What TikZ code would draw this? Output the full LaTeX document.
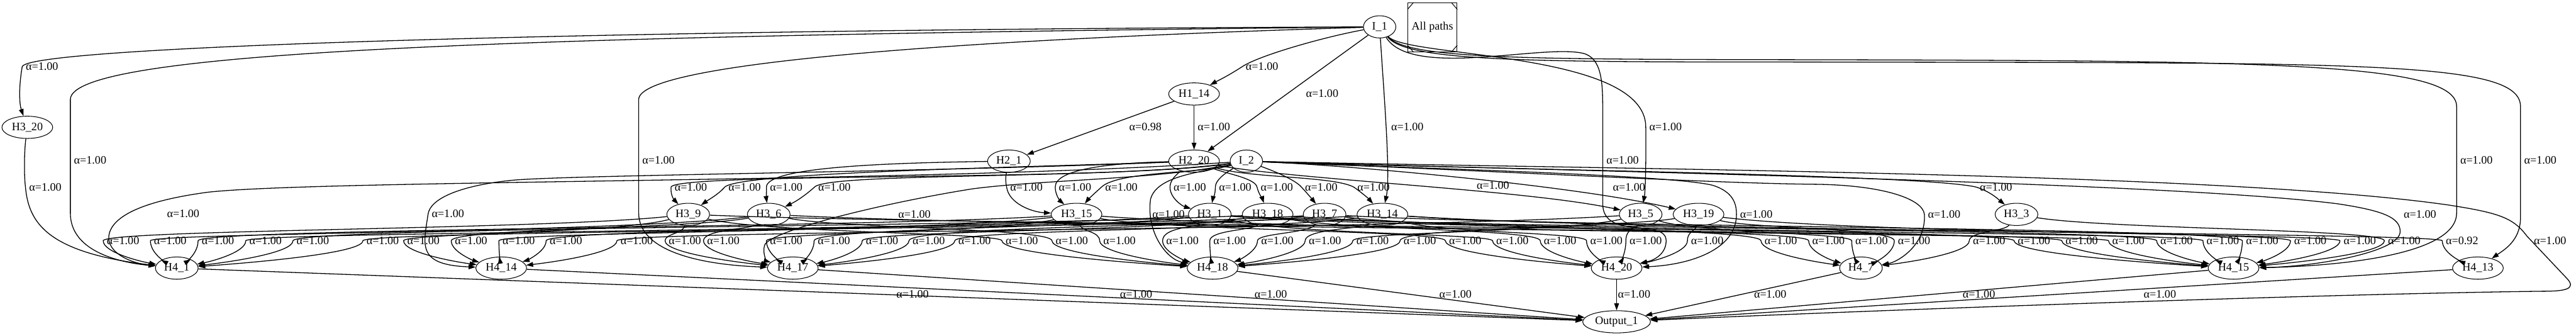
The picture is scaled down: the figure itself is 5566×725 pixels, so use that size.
\documentclass[tikz,border=0pt]{standalone}
\usepackage{fontspec}
\setmainfont{Liberation Serif}
\usetikzlibrary{arrows.meta,calc,shapes.geometric}
\begin{document}
\begin{tikzpicture}[x=0.01cm,y=-0.01cm,font=\fontsize{7}{8}\selectfont,
  nd/.style={draw,ellipse,minimum width=0.7cm,minimum height=0.48cm,inner xsep=1.5pt,inner ysep=1pt},
  link/.style={draw,line width=0.5pt,-{Triangle[length=4.3pt,width=2.9pt]}},
  lbl/.style={anchor=west,inner sep=2pt}]
\useasboundingbox (0,0) rectangle (5566,725);
\node[nd] (I_1) at (2981,58) {I\_1};
\node[draw,minimum width=1.06cm,minimum height=1.06cm,inner sep=0pt] (legend) at (3095,59) {All paths};
\draw ($(legend.north west)+(0,15)$) -- ($(legend.north west)+(13,0)$);
\draw ($(legend.north east)+(0,15)$) -- ($(legend.north east)+(-13,0)$);
\draw ($(legend.south west)+(0,-15)$) -- ($(legend.south west)+(13,0)$);
\draw ($(legend.south east)+(0,-15)$) -- ($(legend.south east)+(-13,0)$);
\node[nd] (H1_14) at (2580,203) {H1\_14};
\node[nd] (H2_1) at (2180,348) {H2\_1};
\node[nd] (H2_20) at (2580,348) {H2\_20};
\node[nd] (I_2) at (2693,348) {I\_2};
\node[nd] (H3_20) at (59,275) {H3\_20};
\node[nd] (H3_9) at (1487,463) {H3\_9};
\node[nd] (H3_6) at (1661,463) {H3\_6};
\node[nd] (H3_15) at (2326,463) {H3\_15};
\node[nd] (H3_1) at (2614,463) {H3\_1};
\node[nd] (H3_18) at (2739,463) {H3\_18};
\node[nd] (H3_7) at (2862,463) {H3\_7};
\node[nd] (H3_14) at (2987,463) {H3\_14};
\node[nd] (H3_5) at (3545,463) {H3\_5};
\node[nd] (H3_19) at (3670,463) {H3\_19};
\node[nd] (H3_3) at (4357,463) {H3\_3};
\node[nd] (H4_1) at (382,579) {H4\_1};
\node[nd] (H4_14) at (1083,579) {H4\_14};
\node[nd] (H4_17) at (1713,579) {H4\_17};
\node[nd] (H4_18) at (2620,579) {H4\_18};
\node[nd] (H4_20) at (3493,579) {H4\_20};
\node[nd] (H4_7) at (4021,579) {H4\_7};
\node[nd] (H4_15) at (4826,579) {H4\_15};
\node[nd] (H4_13) at (5354,579) {H4\_13};
\node[nd] (Output_1) at (3493,695) {Output\_1};

\draw[link] (I_1) .. controls (1300,64) and (60,100) .. (48,144) node[lbl]{α=1.00} .. controls (40,190) and (42,225) .. (H3_20);
\draw[link] (I_1) .. controls (1100,78) and (152,110) .. (152,215) -- (152,346) node[lbl]{α=1.00} -- (152,460) .. controls (152,540) and (250,566) .. (H4_1);
\draw[link] (I_1) .. controls (2860,80) and (2720,120) .. (2684,144) node[lbl]{α=1.00} .. controls (2650,166) and (2628,176) .. (H1_14);
\draw[link] (I_1) -- (H2_20) node[lbl] at (2814,202) {α=1.00};
\draw[link] (I_1) .. controls (2990,200) and (3005,380) .. (H3_14) node[lbl] at (2998,274) {α=1.00};
\draw[link] (I_1) .. controls (2000,88) and (1380,140) .. (1380,215) -- (1380,346) node[lbl]{α=1.00} -- (1380,460) .. controls (1380,545) and (1520,572) .. (H4_17);
\draw[link] (I_1) .. controls (3040,125) and (3555,110) .. (3556,274) node[lbl]{α=1.00} .. controls (3557,380) and (3554,420) .. (H3_5);
\draw[link] (I_1) .. controls (3050,170) and (3330,95) .. (3420,115) .. controls (3462,125) and (3463,180) .. (3463,240) -- (3463,346) node[lbl]{α=1.00} -- (3463,440) .. controls (3463,520) and (3600,470) .. (3600,520) .. controls (3600,548) and (3575,562) .. (H4_20);
\draw[link] (I_1) .. controls (3040,128) and (3300,128) .. (3900,129) .. controls (4900,131) and (5308,135) .. (5308,230) -- (5308,346) node[lbl]{α=1.00} -- (5308,460) .. controls (5308,560) and (5000,576) .. (H4_15);
\draw[link] (I_1) .. controls (3040,133) and (3300,134) .. (3900,134) .. controls (5100,136) and (5446,130) .. (5446,230) -- (5446,346) node[lbl]{α=1.00} -- (5446,470) .. controls (5446,520) and (5410,540) .. (H4_13);

\draw[link] (H1_14) -- (H2_1) node[lbl] at (2432,274) {α=0.98};
\draw[link] (H1_14) -- (H2_20) node[lbl] at (2580,274) {α=1.00};

\draw[link] (H2_1) .. controls (2172,385) and (2173,395) .. (2175,404) node[lbl]{α=1.00} .. controls (2180,440) and (2230,458) .. (H3_15);
\draw[link] (H2_1) .. controls (1900,352) and (1656,362) .. (1656,404) node[lbl]{α=1.00} .. controls (1656,420) and (1656,430) .. (H3_6);

\draw[link] (H2_20) .. controls (2400,352) and (2280,365) .. (2280,404) node[lbl]{α=1.00} .. controls (2280,422) and (2292,435) .. (H3_15);
\draw[link] (H2_20) .. controls (2540,378) and (2528,390) .. (2528,404) node[lbl]{α=1.00} .. controls (2528,428) and (2555,445) .. (H3_1);
\draw[link] (H2_20) .. controls (2650,375) and (2712,385) .. (2716,404) node[lbl]{α=1.00} .. controls (2720,420) and (2728,430) .. (H3_18);
\draw[link] (H2_20) .. controls (2700,385) and (2880,380) .. (2925,404) node[lbl]{α=1.00} .. controls (2945,418) and (2958,430) .. (H3_14);
\draw[link] (H2_20) .. controls (2800,388) and (3300,410) .. (H3_5) node[lbl] at (3183,401) {α=1.00};
\draw[link] (H2_20) .. controls (2200,362) and (1600,372) .. (1566,404) node[lbl]{α=1.00} .. controls (1552,420) and (1530,432) .. (H3_9);
\draw[link] (H2_20) .. controls (2000,372) and (1200,378) .. (1100,390) .. controls (990,402) and (930,430) .. (925,462) node[lbl]{α=1.00} .. controls (915,530) and (900,572) .. (H4_14);

\draw[link] (I_2) .. controls (2400,392) and (1460,372) .. (1450,404) node[lbl]{α=1.00} .. controls (1448,425) and (1460,435) .. (H3_9);
\draw[link] (I_2) .. controls (2400,388) and (1790,372) .. (1760,404) node[lbl]{α=1.00} .. controls (1740,422) and (1720,435) .. (H3_6);
\draw[link] (I_2) .. controls (2600,374) and (2415,370) .. (2380,404) node[lbl]{α=1.00} .. controls (2362,420) and (2350,432) .. (H3_15);
\draw[link] (I_2) .. controls (2650,372) and (2626,388) .. (2626,404) node[lbl]{α=1.00} .. controls (2626,422) and (2620,432) .. (H3_1);
\draw[link] (I_2) .. controls (2760,372) and (2800,390) .. (2812,404) node[lbl]{α=1.00} .. controls (2825,418) and (2835,430) .. (H3_7);
\draw[link] (I_2) .. controls (2900,356) and (3400,400) .. (H3_19) node[lbl] at (3477,404) {α=1.00};
\draw[link] (I_2) .. controls (3200,366) and (4150,376) .. (4270,404) node[lbl]{α=1.00} .. controls (4300,414) and (4315,428) .. (H3_3);
\draw[link] (I_2) .. controls (2000,395) and (700,388) .. (450,415) .. controls (300,435) and (240,470) .. (235,510) .. controls (232,545) and (280,568) .. (H4_1) node[lbl] at (353,462) {α=1.00};
\draw[link] (I_2) .. controls (2500,388) and (2250,388) .. (2100,408) .. controls (1900,440) and (1660,500) .. (1652,530) .. controls (1646,550) and (1660,565) .. (H4_17) node[lbl] at (1933,463) {α=1.00};
\draw[link] (I_2) .. controls (2600,372) and (2500,378) .. (2486,430) .. controls (2476,500) and (2520,560) .. (H4_18) node[lbl] at (2482,463) {α=1.00};
\draw[link] (I_2) .. controls (3000,362) and (3600,376) .. (3700,400) .. controls (3745,414) and (3752,440) .. (3752,463) node[lbl]{α=1.00} .. controls (3752,540) and (3650,572) .. (H4_20);
\draw[link] (I_2) .. controls (3300,372) and (3700,396) .. (3924,398) .. controls (4070,400) and (4155,430) .. (4158,463) node[lbl]{α=1.00} .. controls (4162,530) and (4100,566) .. (H4_7);
\draw[link] (I_2) .. controls (3600,374) and (4700,396) .. (5050,440) .. controls (5150,455) and (5186,470) .. (5186,500) .. controls (5186,545) and (5000,576) .. (H4_15) node[lbl] at (5186,463) {α=1.00};
\draw[link] (I_2) .. controls (3500,366) and (4800,372) .. (5292,443) .. controls (5400,460) and (5430,470) .. (5460,510) -- (5545,600) .. controls (5570,625) and (5540,629) .. (5494,629) .. controls (5000,635) and (4000,672) .. (Output_1) node[lbl] at (5467,520) {α=1.00};

\draw[link] (H3_20) .. controls (52,330) and (52,380) .. (55,404) node[lbl]{α=1.00} .. controls (62,480) and (100,545) .. (H4_1);

\foreach \src/\lx/\tgt/\w [count=\i] in {H3_9/223/H4_1/1.00, H3_6/325/H4_1/1.00, H3_15/428/H4_1/1.00, H3_1/531/H4_1/1.00, H3_18/633/H4_1/1.00, H3_14/784/H4_1/1.00,
  H3_9/872/H4_14/1.00, H3_6/975/H4_14/1.00, H3_15/1078/H4_14/1.00, H3_7/1180/H4_14/1.00, H3_5/1333/H4_14/1.00,
  H3_9/1437/H4_17/1.00, H3_6/1520/H4_17/1.00, H3_15/1656/H4_17/1.00, H3_1/1759/H4_17/1.00, H3_18/1863/H4_17/1.00, H3_7/1964/H4_17/1.00, H3_14/2063/H4_17/1.00,
  H3_9/2165/H4_18/1.00, H3_6/2273/H4_18/1.00, H3_15/2376/H4_18/1.00, H3_1/2512/H4_18/1.00, H3_18/2614/H4_18/1.00, H3_7/2717/H4_18/1.00, H3_14/2820/H4_18/1.00, H3_5/2923/H4_18/1.00, H3_19/3025/H4_18/1.00,
  H3_15/3123/H4_20/1.00, H3_1/3225/H4_20/1.00, H3_18/3328/H4_20/1.00, H3_14/3428/H4_20/1.00, H3_5/3513/H4_20/1.00, H3_19/3646/H4_20/1.00,
  H3_1/3805/H4_7/1.00, H3_7/3908/H4_7/1.00, H3_5/4001/H4_7/1.00, H3_19/4093/H4_7/1.00, H3_3/4255/H4_7/1.00,
  H3_9/4352/H4_15/1.00, H3_6/4455/H4_15/1.00, H3_15/4556/H4_15/1.00, H3_1/4660/H4_15/1.00, H3_18/4760/H4_15/1.00, H3_7/4845/H4_15/1.00, H3_14/4949/H4_15/1.00, H3_19/5056/H4_15/1.00, H3_3/5152/H4_15/1.00,
  H3_14/5277/H4_13/0.92} {
  \pgfmathsetmacro\yb{int(489+mod(7*\i,17))}
  \coordinate (b) at (\lx,\yb);
  \coordinate (p) at ($(\src)!0.25!(b)$);
  \coordinate (q) at ($(\tgt)!0.5!(\lx,550)$);
  \draw[link] (\src) .. controls (p |- b) and (b) .. (\lx,520) node[lbl]{α=\w} .. controls (\lx,545) and (q) .. (\tgt);
}

\foreach \s/\lx in {H4_1/1929, H4_14/2412, H4_17/2703, H4_18/3102, H4_20/3488, H4_7/3782, H4_15/4233, H4_13/4624}
  \draw[link] (\s) -- (Output_1) node[lbl] at (\lx,636) {α=1.00};
\end{tikzpicture}
\end{document}
